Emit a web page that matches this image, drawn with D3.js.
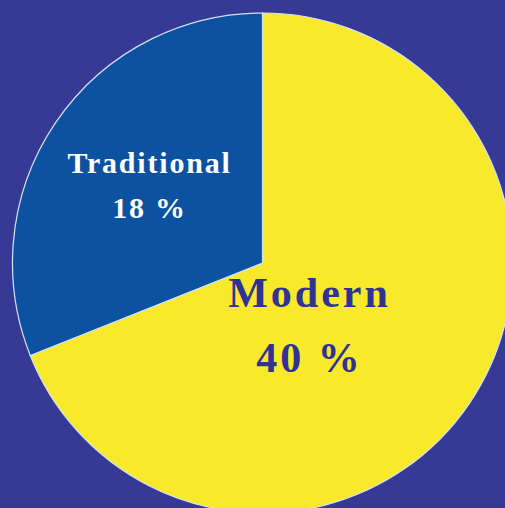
<!DOCTYPE html>
<html>
<head>
<meta charset="utf-8">
<script src="https://cdn.jsdelivr.net/npm/d3@7"></script>
<style>
  html, body { margin: 0; padding: 0; background: #363a95; overflow: hidden; }
  text { font-family: "Liberation Serif", "Times New Roman", serif; font-weight: bold; }
</style>
</head>
<body>
<div id="chart"></div>
<script>
// chart data
let categories = ["Modern", "Traditional"];
let values = [40, 18];
let labels = ["40 %", "18 %"];

let width = 505,
    height = 508;
let cx = 262.5, cy = 263, radius = 250;

let colors = d3.scaleOrdinal()
    .domain(categories)
    .range(["#f8ea2a", "#0c52a1"]);

let svg = d3.select("#chart")
    .append("svg")
    .attr("width", width)
    .attr("height", height);

svg.append("rect")
    .attr("width", width)
    .attr("height", height)
    .attr("fill", "#363a95");

let g = svg.append("g")
    .attr("transform", "translate(" + cx + "," + cy + ")");

let pie = d3.pie().sort(null).value(d => d.value);
let arc = d3.arc().innerRadius(0).outerRadius(radius);

let data = categories.map((c, i) => ({ name: c, value: values[i], label: labels[i] }));
let arcs = pie(data);

g.selectAll("path.slice")
    .data(arcs)
    .enter()
    .append("path")
    .attr("class", "slice")
    .attr("d", arc)
    .attr("fill", d => colors(d.data.name))
    .attr("stroke", "#d6e2f4")
    .attr("stroke-width", 1.2);

// label positions (offset from centre) and styles
let labelStyle = {
    Modern: { dx: 47, dy: 44, gap: 65, size: 42, spacing: 3, fill: "#2f3393" },
    Traditional: { dx: -113, dy: -90, gap: 45, size: 30, spacing: 1.8, fill: "#ffffff" }
};

arcs.forEach(d => {
    let s = labelStyle[d.data.name];
    let t = g.append("text")
        .attr("text-anchor", "middle")
        .attr("fill", s.fill)
        .style("font-size", s.size + "px")
        .style("letter-spacing", s.spacing + "px");
    t.append("tspan")
        .attr("x", s.dx)
        .attr("y", s.dy)
        .text(d.data.name);
    t.append("tspan")
        .attr("x", s.dx)
        .attr("y", s.dy + s.gap)
        .text(d.data.label);
});
</script>
</body>
</html>
